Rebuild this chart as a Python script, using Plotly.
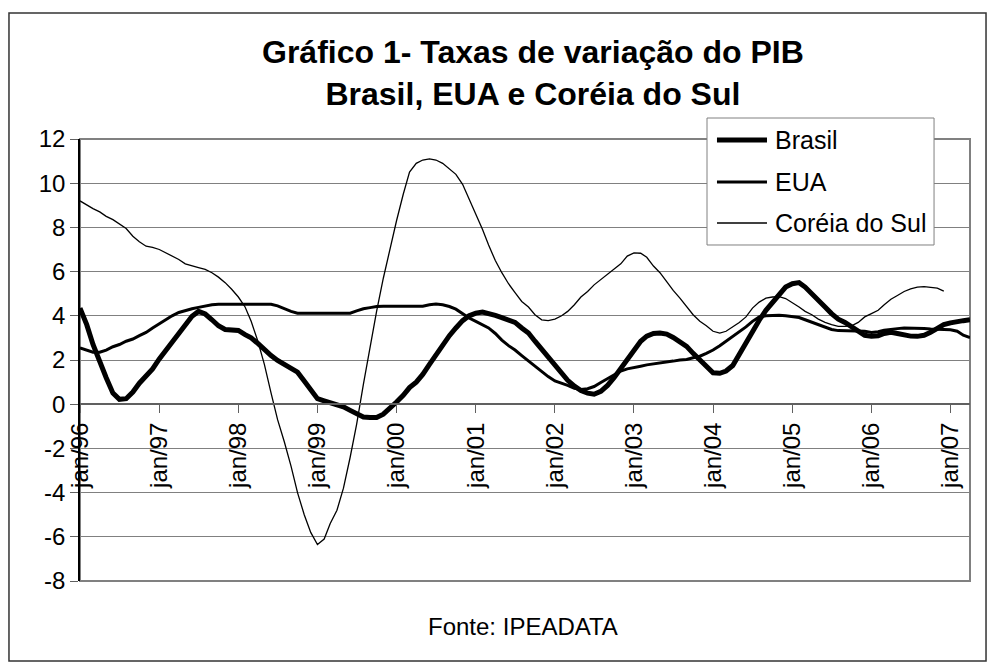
import pandas as pd
import plotly.graph_objects as go

# monthly series, jan/96 .. apr/07 (Coréia do Sul ends dec/06)
months = pd.date_range("1996-01-01", "2007-04-01", freq="MS")

brasil = [
    4.35, 3.6, 2.7, 1.87, 1.2, 0.5, 0.22, 0.25, 0.55, 0.95, 1.25, 1.6,
    2.05, 2.4, 2.8, 3.2, 3.6, 3.98, 4.2, 4.08, 3.82, 3.55, 3.38, 3.34,
    3.34, 3.15, 3.0, 2.75, 2.45, 2.2, 1.98, 1.8, 1.65, 1.45, 1.05, 0.65,
    0.25, 0.15, 0.08, 0.0, -0.12, -0.28, -0.45, -0.58, -0.6, -0.6, -0.45, -0.2,
    0.1, 0.4, 0.75, 1.0, 1.35, 1.8, 2.25, 2.65, 3.1, 3.45, 3.78, 4.0,
    4.12, 4.17, 4.12, 4.02, 3.92, 3.82, 3.7, 3.45, 3.22, 2.85, 2.47, 2.1,
    1.72, 1.38, 1.08, 0.82, 0.62, 0.5, 0.45, 0.58, 0.85, 1.2, 1.62, 2.1,
    2.5, 2.85, 3.08, 3.2, 3.22, 3.17, 3.02, 2.85, 2.62, 2.3, 2.0, 1.7,
    1.42, 1.4, 1.5, 1.75, 2.25, 2.8, 3.35, 3.8, 4.25, 4.6, 4.95, 5.3,
    5.45, 5.5, 5.3, 5.02, 4.75, 4.4, 4.1, 3.85, 3.7, 3.5, 3.3, 3.12,
    3.07, 3.1, 3.2, 3.25, 3.2, 3.12, 3.08, 3.07, 3.12, 3.25, 3.42, 3.6,
    3.68, 3.75, 3.78, 3.82,
]

eua = [
    2.55, 2.45, 2.35, 2.35, 2.45, 2.6, 2.7, 2.85, 2.95, 3.1, 3.25, 3.45,
    3.65, 3.82, 4.0, 4.15, 4.25, 4.32, 4.38, 4.45, 4.5, 4.52, 4.52, 4.52,
    4.52, 4.52, 4.52, 4.52, 4.52, 4.52, 4.45, 4.32, 4.2, 4.12, 4.12, 4.12,
    4.12, 4.12, 4.12, 4.12, 4.12, 4.12, 4.22, 4.32, 4.37, 4.42, 4.43, 4.43,
    4.43, 4.43, 4.43, 4.43, 4.43, 4.5, 4.53, 4.5, 4.42, 4.3, 4.1, 3.9,
    3.75, 3.6, 3.45, 3.2, 2.9, 2.65, 2.45, 2.2, 1.95, 1.72, 1.5, 1.25,
    1.05, 0.95, 0.85, 0.72, 0.67, 0.7, 0.8, 0.98, 1.15, 1.35, 1.5, 1.6,
    1.65, 1.72, 1.78, 1.82, 1.85, 1.88, 1.95, 2.0, 2.02, 2.1, 2.17, 2.3,
    2.45, 2.65, 2.85, 3.05, 3.25, 3.5, 3.75, 3.95, 4.0, 4.02, 4.02, 4.0,
    3.97, 3.92, 3.82, 3.7, 3.6, 3.48, 3.38, 3.33, 3.33, 3.33, 3.33, 3.3,
    3.25, 3.28, 3.35, 3.4, 3.42, 3.45, 3.45, 3.44, 3.42, 3.4, 3.38, 3.37,
    3.37, 3.3, 3.12, 3.02,
]

coreia = [
    9.2, 9.0, 8.85, 8.7, 8.5, 8.35, 8.15, 7.95, 7.6, 7.35, 7.15, 7.1,
    7.0, 6.85, 6.7, 6.55, 6.35, 6.25, 6.18, 6.1, 5.95, 5.75, 5.5, 5.2,
    4.85, 4.4, 3.75, 2.85, 1.8, 0.5, -0.7, -1.7, -2.8, -4.0, -5.0, -5.8,
    -6.35, -6.1, -5.4, -4.8, -3.8, -2.4, -0.9, 0.9, 2.6, 4.2, 5.7, 7.0,
    8.3, 9.5, 10.5, 10.9, 11.05, 11.1, 11.05, 10.9, 10.65, 10.4, 9.95, 9.3,
    8.55, 7.9, 7.2, 6.5, 5.95, 5.45, 5.05, 4.65, 4.4, 4.05, 3.82, 3.78,
    3.85, 4.0, 4.2, 4.5, 4.85, 5.1, 5.4, 5.65, 5.9, 6.1, 6.35, 6.7,
    6.85, 6.83, 6.65, 6.25, 5.95, 5.55, 5.15, 4.8, 4.4, 4.05, 3.75, 3.55,
    3.3, 3.22, 3.3, 3.5, 3.7, 3.95, 4.35, 4.62, 4.8, 4.85, 4.87, 4.78,
    4.6, 4.4, 4.2, 4.05, 3.85, 3.7, 3.6, 3.52, 3.52, 3.55, 3.7, 3.95,
    4.1, 4.25, 4.5, 4.75, 4.92, 5.1, 5.22, 5.3, 5.32, 5.3, 5.25, 5.12,
]

series_names = ["Brasil", "EUA", "Coréia do Sul"]
series_widths = [5, 3, 1.3]

tick_dates = [f"{y}-01-01" for y in range(1996, 2008)]
tick_labels = [
    "jan/96", "jan/97", "jan/98", "jan/99", "jan/00", "jan/01",
    "jan/02", "jan/03", "jan/04", "jan/05", "jan/06", "jan/07",
]
y_ticks = list(range(-8, 13, 2))
y_tick_labels = [str(v) for v in y_ticks]

FONT = "Liberation Sans, Arial, sans-serif"

fig = go.Figure()
for name, values, w in zip(series_names, [brasil, eua, coreia], series_widths):
    fig.add_trace(go.Scatter(x=months[: len(values)], y=values, name=name,
                             mode="lines", line=dict(color="black", width=w)))

# legend box drawn by hand so the sample lines are as long as in the original
legend_shapes = [
    dict(type="rect", xref="paper", yref="paper",
         x0=0.7045, x1=0.9596, y0=0.7602, y1=1.0475,
         line=dict(color="#808080", width=1), fillcolor="white"),
]
legend_notes = []
for name, w, ly in zip(series_names, series_widths, [0.9977, 0.9027, 0.8100]):
    legend_shapes.append(dict(type="line", xref="paper", yref="paper",
                              x0=0.7157, x1=0.7719, y0=ly, y1=ly,
                              line=dict(color="black", width=w)))
    legend_notes.append(dict(text=name, xref="paper", yref="paper",
                             x=0.7787, y=ly, xanchor="left", yanchor="middle",
                             showarrow=False, font=dict(size=25)))

fig.update_layout(
    width=979,
    height=655,
    margin=dict(l=72, r=17, t=131, b=82),
    paper_bgcolor="white",
    plot_bgcolor="white",
    font=dict(family=FONT, color="black", size=24),
    showlegend=False,
    xaxis=dict(
        range=["1996-01-01", "2007-04-01"],
        tickvals=tick_dates, ticktext=tick_labels, tickangle=-90,
        anchor="free", position=0.4,
        showgrid=False, showline=True, linecolor="#606060", linewidth=1.5,
        ticks="outside", ticklen=8, tickcolor="#606060",
        tickfont=dict(size=24),
    ),
    yaxis=dict(
        range=[-8, 12], tickvals=y_ticks, ticktext=y_tick_labels,
        showgrid=True, gridcolor="#808080", gridwidth=1,
        zeroline=False, showline=True, linecolor="black", linewidth=1.5,
        ticks="outside", ticklen=8, tickcolor="#606060",
        tickfont=dict(size=24),
    ),
    shapes=[
        dict(type="rect", xref="paper", yref="paper", x0=0, x1=1, y0=0, y1=1,
             line=dict(color="#808080", width=2), layer="below"),
        dict(type="rect", xref="paper", yref="paper",
             x0=-0.0798, x1=1.018, y0=-0.181, y1=1.285,
             line=dict(color="#333333", width=1.5)),
    ] + legend_shapes,
    annotations=[
        dict(text="<b>Gráfico 1- Taxas de variação do PIB<br>Brasil, EUA e Coréia do Sul</b>",
             xref="paper", yref="paper", x=0.509, y=1.149,
             xanchor="center", yanchor="middle", showarrow=False,
             font=dict(size=32)),
        dict(text="Fonte: IPEADATA", xref="paper", yref="paper",
             x=0.498, y=-0.104, xanchor="center", yanchor="middle",
             showarrow=False, font=dict(size=24)),
    ] + legend_notes,
)

fig.write_html("out.html")
